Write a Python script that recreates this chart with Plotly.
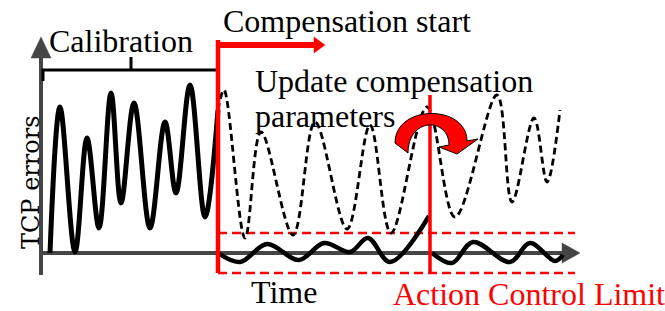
import plotly.graph_objects as go

# ---------------- data (pixel-space schematic coordinates) ----------------
calib_x = [50, 60, 75, 87, 99, 111, 121, 134, 150, 165, 176, 190, 205, 218]
calib_y = [253, 107, 252, 138, 228, 93, 203, 103, 228, 122, 193, 85, 217, 110]

uncomp_x = [218, 224, 245, 261, 293, 315, 347, 370, 391, 427, 455, 497, 512, 534, 547, 560]
uncomp_y = [110, 90, 238, 132, 235, 122, 229, 125, 233, 107, 217, 95, 202, 118, 182, 110]

comp1_x = [218, 240, 267, 299, 324, 350, 368, 390, 429]
comp1_y = [253, 262, 244, 260, 243, 252, 238, 262, 216]

comp2_x = [432, 452, 473, 510, 530, 555, 563]
comp2_y = [253, 263, 242, 262, 243, 261, 255]

# axes (gray)
yaxis_line_x = [41, 41]
yaxis_line_y = [275, 56]
yaxis_head_x = [41, 31, 51]
yaxis_head_y = [37, 58, 58]
xaxis_line_x = [41, 563]
xaxis_line_y = [253, 253]
xaxis_head_x = [580, 562, 562]
xaxis_head_y = [253, 243, 263]

# red markers
start_line_x = [218, 218]
start_line_y = [40, 273]
start_arrow_x = [216, 316]
start_arrow_y = [45, 45]
start_head_x = [325, 314, 314]
start_head_y = [45, 37, 53]
acl_line_x = [430, 430]
acl_line_y = [95, 273]
band_top_y = 233
band_bot_y = 273
band_x = [218, 575]

# calibration bracket
bracket_x = [43, 43, 218, 218]
bracket_y = [81, 70, 70, 81]
bracket_tick_x = [131, 131]
bracket_tick_y = [70, 57]

# curved update arrow outline
curl_outer = [(395, 143), (395, 104), (467, 104), (467, 141)]
curl_head = [(478, 139), (457, 154), (439, 147)]
curl_inner = [(449, 145), (449, 117), (408, 117), (408, 153)]

# texts
labels = ["Calibration", "Compensation start", "Update compensation", "parameters", "Time"]
label_x = [47, 221, 253, 253, 249]
label_base = [52, 32, 92, 127, 303]
acl_label = "Action Control Limit"
acl_label_x = 391
acl_label_base = 305
ylabel = "TCP errors"

SERIF = "Liberation Serif, Times New Roman, serif"
FS = 32
GRAY = "#454545"
RED = "#ff0000"

fig = go.Figure()

def line_trace(x, y, color, width, dash="solid", shape="linear"):
    fig.add_trace(go.Scatter(x=x, y=y, mode="lines", hoverinfo="skip",
                             line=dict(color=color, width=width, dash=dash, shape=shape,
                                       smoothing=1.0)))

def fill_trace(x, y, color):
    fig.add_trace(go.Scatter(x=x + [x[0]], y=y + [y[0]], mode="lines", fill="toself",
                             fillcolor=color, line=dict(color=color, width=0.5),
                             hoverinfo="skip"))

# gray axes
line_trace(yaxis_line_x, yaxis_line_y, GRAY, 4)
line_trace(xaxis_line_x, xaxis_line_y, GRAY, 4)
fill_trace(yaxis_head_x, yaxis_head_y, GRAY)
fill_trace(xaxis_head_x, xaxis_head_y, GRAY)

# red dashed band
line_trace(band_x, [band_top_y] * 2, RED, 2.5, dash="9px,5px")
line_trace(band_x, [band_bot_y] * 2, RED, 2.5, dash="9px,5px")

# curves
line_trace(uncomp_x, uncomp_y, "black", 2.8, dash="7px,4px", shape="spline")
line_trace(calib_x, calib_y, "black", 5, shape="spline")
line_trace(comp1_x, comp1_y, "black", 4.5, shape="spline")
line_trace(comp2_x, comp2_y, "black", 4.5, shape="spline")

# bracket
line_trace(bracket_x, bracket_y, "black", 3)
line_trace(bracket_tick_x, bracket_tick_y, "black", 3)

# red lines / arrow
line_trace(start_line_x, start_line_y, RED, 4.5)
line_trace(start_arrow_x, start_arrow_y, RED, 6)
fill_trace(start_head_x, start_head_y, RED)
line_trace(acl_line_x, acl_line_y, RED, 3.5)

# curved arrow as path shape
def pt(p):
    return f"{p[0]},{p[1]}"
path = (f"M {pt(curl_outer[0])} C {pt(curl_outer[1])} {pt(curl_outer[2])} {pt(curl_outer[3])} "
        f"L {pt(curl_head[0])} L {pt(curl_head[1])} L {pt(curl_head[2])} "
        f"L {pt(curl_inner[0])} C {pt(curl_inner[1])} {pt(curl_inner[2])} {pt(curl_inner[3])} Z")
fig.add_shape(type="path", path=path, xref="x", yref="y", fillcolor=RED,
              line=dict(color="black", width=1), layer="above")

# texts
for t, x, b in zip(labels, label_x, label_base):
    fig.add_annotation(x=x, y=b - 0.35 * FS, text=t, showarrow=False, xanchor="left",
                       yanchor="middle", font=dict(family=SERIF, size=FS, color="black"))
fig.add_annotation(x=acl_label_x, y=acl_label_base - 0.35 * FS, text=acl_label, showarrow=False,
                   xanchor="left", yanchor="middle", font=dict(family=SERIF, size=FS, color=RED))
fig.add_annotation(x=31, y=182, text=ylabel, showarrow=False, textangle=-90,
                   xanchor="center", yanchor="middle",
                   font=dict(family="DejaVu Serif, serif", size=24, color="black"))

fig.update_layout(width=665, height=311, margin=dict(l=0, r=0, t=0, b=0),
                  paper_bgcolor="white", plot_bgcolor="white", showlegend=False,
                  xaxis=dict(range=[0, 665], visible=False, fixedrange=True),
                  yaxis=dict(range=[311, 0], visible=False, fixedrange=True))

fig.write_html("out.html", config={"displayModeBar": False},
               post_script="document.body.style.margin='0';document.body.style.overflow='hidden';")
